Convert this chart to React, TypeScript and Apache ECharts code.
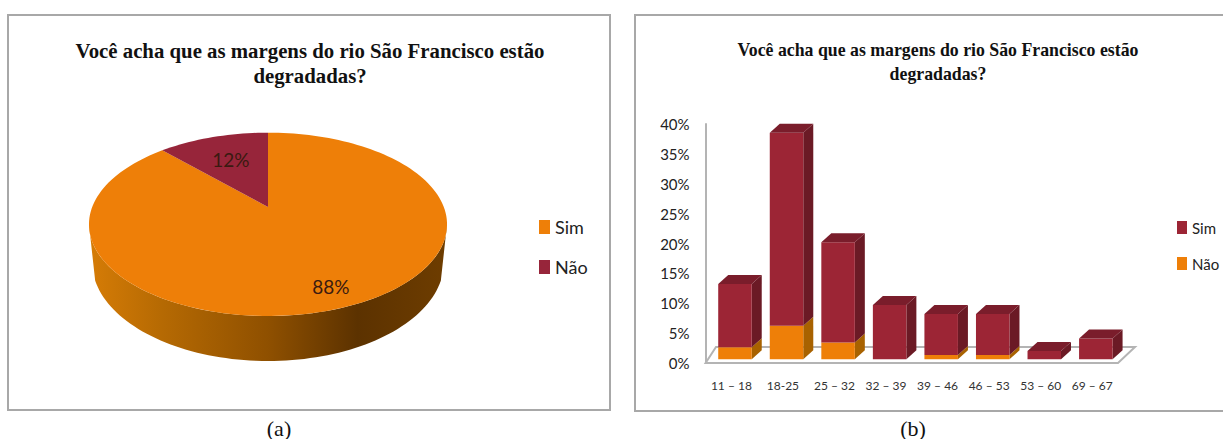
import React, { useEffect, useRef } from "react";
import * as echarts from "echarts";

const titleText = "Você acha que as margens do rio São Francisco estão\ndegradadas?";
const pieNames = ["Sim", "Não"];
const pieValues = [88, 12];
const pieLabels = ["88%", "12%"];
const pieColors = ["#EE7F08", "#97253A"];
const pieLabelRadius = [0.83, 0.64];

const ageGroups = ["11 – 18", "18-25", "25 – 32", "32 – 39", "39 – 46", "46 – 53", "53 – 60", "69 – 67"];
const simValues = [10.6, 32.3, 16.8, 9.1, 6.9, 6.9, 1.4, 3.5];
const naoValues = [2, 5.6, 2.8, 0, 0.7, 0.7, 0, 0];

// pie projection
const CX = 268, CY = 207, A = 175.8, B = 88.4, P = -0.189;
const project = (deg: number, r = 1) => {
  const t = (deg * Math.PI) / 180;
  const u = Math.sin(t) * r, v = -Math.cos(t) * r, w = 1 + P * v;
  return [CX + (A * u) / w, CY + (B * v) / w];
};
const base = (deg: number) => {
  const t = (deg * Math.PI) / 180;
  return [268 + 176 * Math.sin(t), 262 - 99 * Math.cos(t)];
};
const arcPts = (f: (d: number) => number[], a: number, b: number) => {
  const n = Math.max(2, Math.ceil(Math.abs(b - a) / 2));
  const out: number[][] = [];
  for (let i = 0; i <= n; i++) out.push(f(a + ((b - a) * i) / n));
  return out;
};
const WALL_START = (Math.acos(P) * 180) / Math.PI;
const WALL_END = 360 - WALL_START;

const total = pieValues.reduce((a, b) => a + b, 0);
let acc = 0;
const pieAngles = pieValues.map((v) => {
  const s = (acc / total) * 360;
  acc += v;
  return [s, (acc / total) * 360];
});

const pieSeries = pieNames.map((name, idx) => ({
  type: "custom",
  name,
  coordinateSystem: "none",
  silent: true,
  data: [pieAngles[idx]],
  z: 3,
  renderItem: (_: any, api: any) => {
    const s = api.value(0), e = api.value(1);
    const children: any[] = [];
    const ws = Math.max(s, WALL_START), we = Math.min(e, WALL_END);
    if (we > ws) {
      const pts = [...arcPts(project, ws, we), ...arcPts(base, Math.min(we, 270), Math.max(ws, 90))];
      children.push({
        type: "polygon",
        shape: { points: pts },
        style: {
          fill: new echarts.graphic.LinearGradient(0, 0, 1, 0, [
            { offset: 0, color: "#D67C06" },
            { offset: 0.2, color: "#B66A03" },
            { offset: 0.5, color: "#8F5000" },
            { offset: 0.75, color: "#5C3200" },
            { offset: 1, color: "#6E3D00" },
          ]),
          stroke: "none",
        },
      });
    }
    children.push({
      type: "polygon",
      shape: { points: [[CX, CY], ...arcPts(project, s, e)] },
      style: { fill: pieColors[idx], stroke: "none" },
    });
    const [lx, ly] = project((s + e) / 2, pieLabelRadius[idx]);
    children.push({
      type: "text",
      x: lx,
      y: ly,
      z2: 10,
      style: {
        text: pieLabels[idx],
        fill: "#3A1A10",
        font: "19px Lato",
        align: "center",
        verticalAlign: "middle",
      },
    });
    return { type: "group", children };
  },
}));

// bars
const DX = 10, DY = 9, OX = 3.6, OY = -3.7;
const segment = (front: string, side: string, topFace: string | null) => (_: any, api: any) => {
  const i = api.value(0);
  const lo = api.value(1), hi = api.value(2);
  if (hi <= lo) return { type: "group", children: [] };
  const bw = api.size([1, 0])[0] * 0.65;
  const pb = api.coord([i, lo]), pt = api.coord([i, hi]);
  const x0 = pb[0] + OX - bw / 2, x1 = x0 + bw;
  const yb = pb[1] + OY, yt = pt[1] + OY;
  const children: any[] = [
    { type: "polygon", shape: { points: [[x1, yb], [x1 + DX, yb - DY], [x1 + DX, yt - DY], [x1, yt]] }, style: { fill: side } },
    { type: "rect", shape: { x: x0, y: yt, width: bw, height: yb - yt }, style: { fill: front } },
  ];
  if (topFace) {
    children.push({ type: "polygon", shape: { points: [[x0, yt], [x1, yt], [x1 + DX, yt - DY], [x0 + DX, yt - DY]] }, style: { fill: topFace } });
  }
  return { type: "group", children };
};

const naoData = ageGroups.map((_, i) => [i, 0, naoValues[i]]);
const simData = ageGroups.map((_, i) => [i, naoValues[i], naoValues[i] + simValues[i]]);

const legendText = { fontFamily: "Lato", fontSize: 18, color: "#222" };

export default function App() {
  const ref = useRef<HTMLDivElement>(null);
  useEffect(() => {
    document.body.style.margin = "0";
    const chart = echarts.init(ref.current!, null, { renderer: "svg" });
    chart.setOption({
      animation: false,
      backgroundColor: "#fff",
      title: [
        { text: titleText, left: 305, top: 33, textAlign: "center", textStyle: { fontFamily: "Liberation Serif", fontSize: 20.8, fontWeight: "bold", color: "#111", lineHeight: 25 } },
        { text: titleText, left: 933, top: 33, textAlign: "center", textStyle: { fontFamily: "Liberation Serif", fontSize: 17.8, fontWeight: "bold", color: "#111", lineHeight: 24 } },
      ],
      legend: [
        { left: 539, top: 218, padding: 0, orient: "vertical", itemGap: 22, itemWidth: 11, itemHeight: 14, icon: "rect", selectedMode: false, textStyle: legendText,
          data: [{ name: "Sim", itemStyle: { color: pieColors[0] } }, { name: "Não", itemStyle: { color: pieColors[1] } }] },
        { left: 1177, top: 220, padding: 0, orient: "vertical", itemGap: 21, itemWidth: 10, itemHeight: 13, icon: "rect", selectedMode: false, textStyle: { ...legendText, fontSize: 15 },
          data: [{ name: "Sim", itemStyle: { color: "#9C2535" } }, { name: "Não", itemStyle: { color: "#EE7F08" } }] },
      ],
      grid: { left: 705.6, top: 124, width: 412.4, height: 239, containLabel: false },
      xAxis: { type: "category", data: ageGroups, axisLine: { show: false }, axisTick: { show: false }, axisLabel: { fontFamily: "Lato", fontSize: 12, color: "#333", margin: 16, interval: 0 } },
      yAxis: { type: "value", min: 0, max: 40, interval: 5, splitLine: { show: false }, axisTick: { show: false },
        axisLine: { show: true, lineStyle: { color: "#B4B4B4", width: 2 } },
        axisLabel: { formatter: "{value}%", fontFamily: "Lato", fontSize: 15, color: "#222", margin: 16 } },
      graphic: [
        { type: "rect", z: -1, shape: { x: 8, y: 15, width: 602, height: 395 }, style: { fill: "#fff", stroke: "#A8A8A8", lineWidth: 2 } },
        { type: "rect", z: -1, shape: { x: 635, y: 15, width: 600, height: 396 }, style: { fill: "#fff", stroke: "#A8A8A8", lineWidth: 2 } },
        { type: "polygon", z: 0, shape: { points: [[705.6, 363], [1118, 363], [1135, 347], [716, 347]] }, style: { fill: "#fff", stroke: "#B4B4B4", lineWidth: 2 } },
        { type: "text", x: 279, y: 428, style: { text: "(a)", font: "22px Liberation Serif", fill: "#111", align: "center", verticalAlign: "middle" } },
        { type: "text", x: 913, y: 428, style: { text: "(b)", font: "22px Liberation Serif", fill: "#111", align: "center", verticalAlign: "middle" } },
      ],
      series: [
        ...pieSeries,
        { type: "custom", name: "Não", silent: true, z: 3, data: naoData, encode: { x: 0, y: [1, 2] }, renderItem: segment("#EE7F08", "#A86200", null) },
        { type: "custom", name: "Sim", silent: true, z: 4, data: simData, encode: { x: 0, y: [1, 2] }, renderItem: segment("#9C2535", "#6B1A25", "#7A1D2B") },
      ],
    });
    return () => chart.dispose();
  }, []);
  return <div ref={ref} style={{ position: "absolute", left: 0, top: 0, width: 1223, height: 439 }} />;
}
